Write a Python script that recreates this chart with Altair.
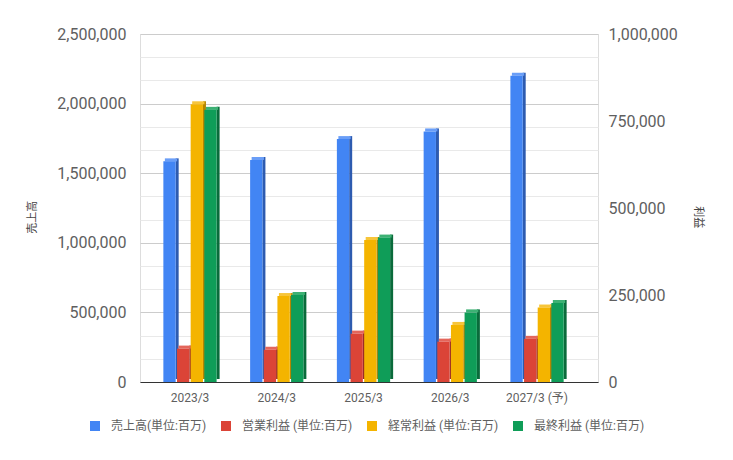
import altair as alt
import pandas as pd

years = ["2023/3", "2024/3", "2025/3", "2026/3", "2027/3 (予)"]
sales = [1585000, 1595000, 1745000, 1800000, 2200000]
operating = [96000, 93000, 139000, 116000, 124000]
ordinary = [798000, 247000, 408000, 164000, 214000]
net = [782000, 250000, 415000, 200000, 227000]

series_names = ["売上高(単位:百万)", "営業利益 (単位:百万)", "経常利益 (単位:百万)", "最終利益 (単位:百万)"]
front_colors = ["#4285F4", "#DB4437", "#F4B400", "#0F9D58"]
side_colors = ["#2D5BB0", "#9C2D24", "#B58500", "#0A6B3B"]
top_colors = ["#6A9EF7", "#E4665B", "#F7C53A", "#3DB174"]

left_ticks = [i * 2500000 / 15 for i in range(16)]
right_ticks = [0, 250000, 500000, 750000, 1000000]

rows = []
for s, vals in zip(series_names, [sales, operating, ordinary, net]):
    for yr, v in zip(years, vals):
        rows.append({"year": yr, "series": s, "value": v})
df = pd.DataFrame(rows)

FONT = "Roboto, 'Noto Sans CJK JP', sans-serif"
PITCH = 13.65
FW = 12.3
D = 3.0

base = alt.Chart(df)

x_enc = alt.X(
    "year:N",
    sort=years,
    scale=alt.Scale(paddingInner=0, paddingOuter=0.1395, align=0.273),
    axis=alt.Axis(title=None, labelAngle=0, ticks=False, grid=False,
                  domainColor="#333333", labelPadding=10, labelFontSize=12,
                  labelColor="#5f5f5f", labelFont=FONT),
)

left_axis = alt.Axis(
    orient="left", values=left_ticks, title="売上高",
    labelExpr="datum.value % 500000 === 0 ? format(datum.value, ',') : ''",
    gridColor={"condition": {"test": "datum.value % 500000 === 0", "value": "#cccccc"},
               "value": "#e9e9e9"},
    ticks=False, domain=False, labelPadding=14, labelFontSize=16,
    labelColor="#5f5f5f", labelFont=FONT,
    titleAngle=-90, titleX=-107.5, titleY=182.7, titleFontSize=11,
    titleFontWeight="normal", titleColor="#444444", titleFont=FONT,
    titleBaseline="middle", titleAlign="center",
)
right_axis = alt.Axis(
    orient="right", values=right_ticks, format=",d", title="利益",
    grid=False, ticks=False, domain=False, labelPadding=10, labelFontSize=16,
    labelColor="#5f5f5f", labelFont=FONT,
    titleAngle=90, titleX=99.5, titleY=182.7, titleFontSize=11,
    titleFontWeight="normal", titleColor="#444444", titleFont=FONT,
    titleBaseline="middle", titleAlign="center",
)

y_left = alt.Y("value:Q", scale=alt.Scale(domain=[0, 2500000], nice=False), axis=left_axis)
y_right = alt.Y("value:Q", scale=alt.Scale(domain=[0, 1000000], nice=False), axis=right_axis)

color_enc = alt.Color(
    "series:N",
    scale=alt.Scale(domain=series_names, range=front_colors),
    legend=alt.Legend(title=None, orient="none", direction="horizontal",
                      legendX=-51, legendY=386, symbolType="square", symbolSize=100,
                      symbolStrokeWidth=0, labelFontSize=12, labelColor="#5f5f5f",
                      labelFont=FONT, columnPadding=13, labelOffset=10),
)


def group(idx_list, y_enc):
    sides, tops, fronts = [], [], []
    for i in idx_list:
        c = (i - 1.5) * PITCH
        src = base.transform_filter(alt.datum.series == series_names[i])
        sides.append(src.mark_bar(width=D, xOffset=c + FW / 2 + D / 2, yOffset=-D,
                                  y2Offset=0, color=side_colors[i])
                     .encode(x=x_enc, y=y_enc))
        tops.append(src.mark_tick(orient="horizontal", size=FW, thickness=D,
                                  xOffset=c + D / 2, yOffset=-D / 2,
                                  color=top_colors[i], opacity=1)
                    .encode(x=x_enc, y=y_enc))
        fronts.append(src.mark_bar(width=FW, xOffset=c)
                      .encode(x=x_enc, y=y_enc, color=color_enc))
    return alt.layer(*sides, *tops, *fronts)


chart = alt.layer(group([0], y_left), group([1, 2, 3], y_right)).resolve_scale(
    y="independent"
).properties(
    width=458, height=348,
    autosize=alt.AutoSizeParams(type="none"),
    padding={"left": 132, "top": 26, "right": 127, "bottom": 60},
    background="white",
).configure_view(strokeWidth=0).configure(font=FONT)

chart.save("out.html", embed_options={"renderer": "svg", "actions": False})
